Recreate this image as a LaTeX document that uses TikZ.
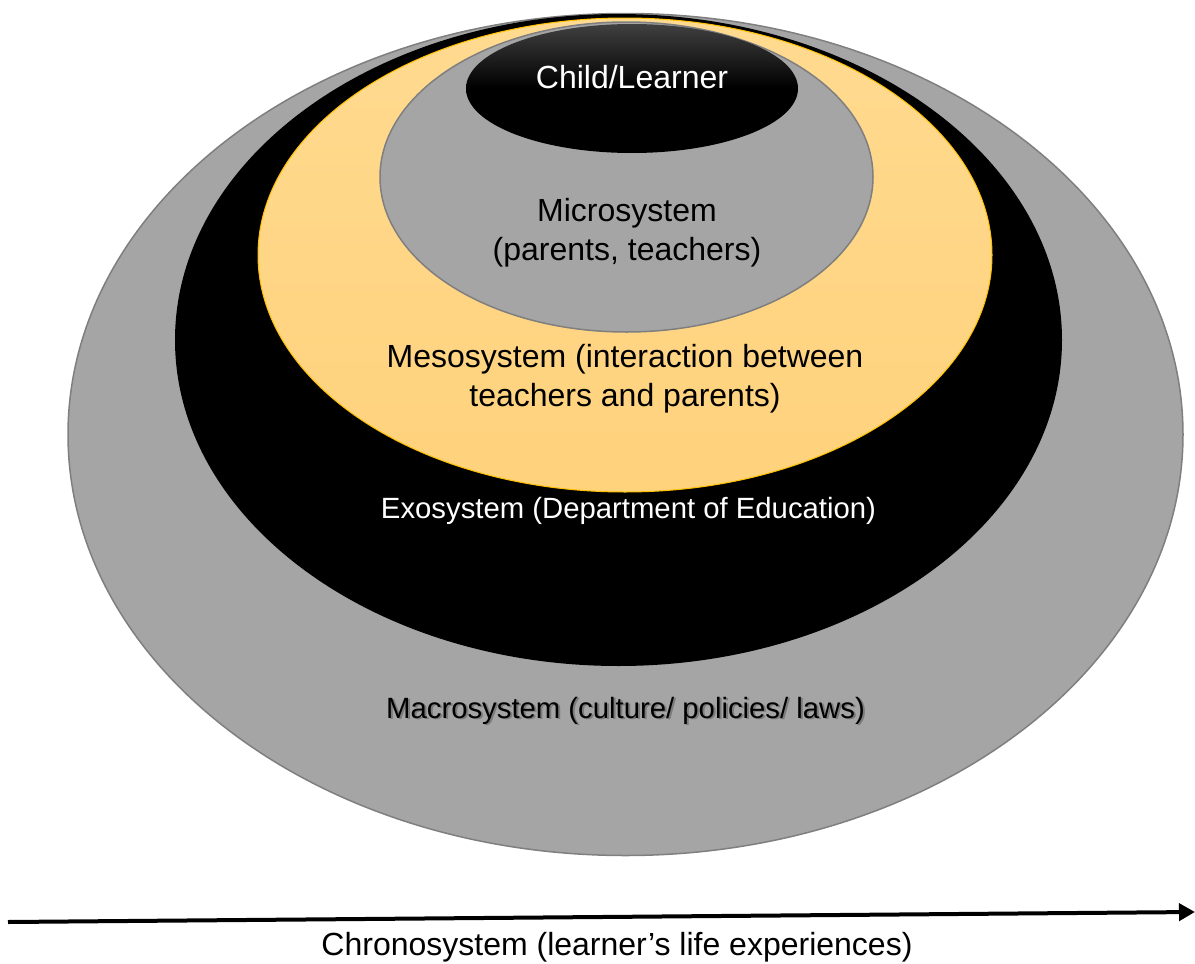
\documentclass[tikz,border=0pt]{standalone}
\usepackage{fontspec}
\setmainfont{Liberation Sans}
\usetikzlibrary{shapes.geometric,arrows.meta}
\definecolor{ringgrey}{HTML}{A5A5A5}
\definecolor{ringedge}{HTML}{7F7F7F}
\definecolor{mesotop}{HTML}{FFDA90}
\definecolor{mesobot}{HTML}{FFD27C}
\definecolor{mesoedge}{HTML}{FFC000}
\definecolor{childtop}{HTML}{404040}
\begin{document}
\begin{tikzpicture}[x=1pt,y=-1pt,
  ring/.style={ellipse, inner sep=0pt, outer sep=0pt},
  lbl/.style={font=\fontsize{32}{39}\selectfont, align=center, inner sep=0pt},
  slbl/.style={font=\fontsize{29.3}{36}\selectfont, align=center, inner sep=0pt}]
\useasboundingbox (0,0) rectangle (1195,964);
\node[ring, fill=ringgrey, draw=ringedge, line width=1.5pt,
  minimum width=1115pt, minimum height=842pt] (macro) at (625.5,434.5) {};
\node[ring, fill=black, minimum width=887pt, minimum height=652pt] (exo) at (618.5,340) {};
\node[ring, top color=mesotop, bottom color=mesobot, draw=mesoedge, line width=1pt,
  minimum width=734pt, minimum height=474pt] (meso) at (625,255) {};
\node[ring, fill=ringgrey, draw=ringedge, line width=1.5pt,
  minimum width=493pt, minimum height=310pt] (micro) at (626.5,177) {};
\node[ring, top color=childtop, bottom color=black, middle color=black,
  minimum width=332pt, minimum height=129pt] (child) at (632,88.5) {};
\node[lbl, text=white] (childtxt) at (632,77.5) {Child/Learner};
\node[lbl] (microtxt) at (627,233) {Microsystem\\(parents, teachers)};
\node[lbl] (mesotxt) at (625,379) {Mesosystem (interaction between\\teachers and parents)};
\node[slbl, text=white] (exotxt) at (628.5,510.5) {Exosystem (Department of Education)};
\node[slbl, text=black, opacity=0.25] (macroshadow) at (627.5,712) {Macrosystem (culture/ policies/ laws)};
\node[slbl] (macrotxt) at (625.5,710.5) {Macrosystem (culture/ policies/ laws)};
\coordinate (tstart) at (8,922);
\coordinate (tend) at (1195,912);
\draw[line width=4pt, -{Triangle[length=16pt,width=17pt]}] (tstart) -- (tend);
\node[lbl] (chronotxt) at (617,947.5) {Chronosystem (learner’s life experiences)};
\end{tikzpicture}
\end{document}
